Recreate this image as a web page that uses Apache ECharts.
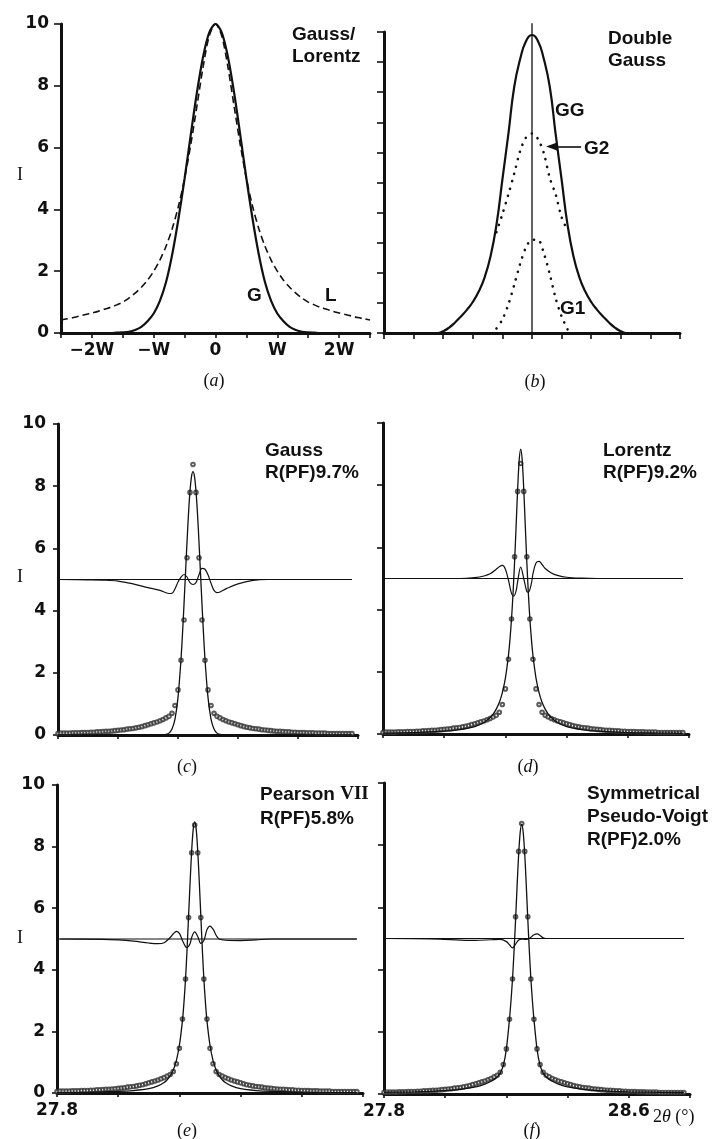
<!DOCTYPE html>
<html><head><meta charset="utf-8">
<script src="https://cdn.jsdelivr.net/npm/echarts@6/dist/echarts.min.js"></script>
<style>html,body{margin:0;padding:0;background:#fff}#c{width:725px;height:1139px}</style>
</head><body><div id="c"></div>
<script>
// ---------- panel (a)/(b): x in units of W ----------
const profX = [-2.5,-2.4,-2.3,-2.2,-2.1,-2.0,-1.9,-1.8,-1.7,-1.6,-1.5,-1.4,-1.3,-1.2,-1.1,-1.0,-0.9,-0.8,-0.7,-0.6,-0.5,-0.4,-0.3,-0.2,-0.1,0,0.1,0.2,0.3,0.4,0.5,0.6,0.7,0.8,0.9,1.0,1.1,1.2,1.3,1.4,1.5,1.6,1.7,1.8,1.9,2.0,2.1,2.2,2.3,2.4,2.5];
const gaussA = [0,0,0,0,0,0,0,0,0,0.01,0.02,0.04,0.1,0.2,0.38,0.63,1.04,1.65,2.55,3.69,5.0,6.42,7.79,8.95,9.73,10,9.73,8.95,7.79,6.42,5.0,3.69,2.55,1.65,1.04,0.63,0.38,0.2,0.1,0.04,0.02,0.01,0,0,0,0,0,0,0,0,0];
const lorentzA = [0.42,0.46,0.5,0.55,0.6,0.65,0.7,0.77,0.83,0.91,1.0,1.13,1.29,1.48,1.71,2.0,2.36,2.81,3.38,4.1,5.0,6.1,7.35,8.62,9.62,10,9.62,8.62,7.35,6.1,5.0,4.1,3.38,2.81,2.36,2.0,1.71,1.48,1.29,1.13,1.0,0.91,0.83,0.77,0.7,0.65,0.6,0.55,0.5,0.46,0.42];
const ggB = [0,0,0,0,0,0,0,0,0,0,0.06,0.18,0.35,0.55,0.77,1.03,1.38,1.85,2.55,3.6,5.1,6.6,8.18,9.1,9.7,9.9,9.7,9.1,8.18,6.6,5.1,3.6,2.55,1.85,1.38,1.03,0.77,0.55,0.35,0.18,0.06,0,0,0,0,0,0,0,0,0,0];
const g12X = [-0.6,-0.5,-0.4,-0.3,-0.2,-0.1,0,0.1,0.2,0.3,0.4,0.5,0.6];
const g2B = [3.35,3.95,4.6,5.3,6.05,6.5,6.63,6.45,5.97,5.15,4.6,3.85,3.4];
const g1B = [0.15,0.45,0.95,1.6,2.3,2.85,3.1,3.1,2.65,1.95,1.15,0.55,0.12];
const vLineX = [0, 0];
const vLineY = [0, 10.29];
const arrowFrom = [0.83, 6.2];
const arrowTo = [0.33, 6.2];
const aTickVals = [-2, -1, 0, 1, 2];
const aTickLabels = ['\u22122W', '\u2212W', '0', 'W', '2W'];

// ---------- panels (c)-(f): 2theta in degrees ----------
const obsX = [27.80,27.81,27.82,27.83,27.84,27.85,27.86,27.87,27.88,27.89,27.90,27.91,27.92,27.93,27.94,27.95,27.96,27.97,27.98,27.99,28.00,28.01,28.02,28.03,28.04,28.05,28.06,28.07,28.08,28.09,28.10,28.11,28.12,28.13,28.14,28.15,28.16,28.17,28.18,28.19,28.20,28.21,28.22,28.23,28.24,28.25,28.26,28.27,28.28,28.29,28.30,28.31,28.32,28.33,28.34,28.35,28.36,28.37,28.38,28.39,28.40,28.41,28.42,28.43,28.44,28.45,28.46,28.47,28.48,28.49,28.50,28.51,28.52,28.53,28.54,28.55,28.56,28.57,28.58,28.59,28.60,28.61,28.62,28.63,28.64,28.65,28.66,28.67,28.68,28.69,28.70,28.71,28.72,28.73,28.74,28.75,28.76,28.77,28.78];
const obsY = [0.05,0.06,0.06,0.06,0.06,0.07,0.07,0.07,0.08,0.08,0.08,0.09,0.09,0.10,0.10,0.11,0.12,0.12,0.13,0.14,0.15,0.16,0.17,0.19,0.20,0.21,0.23,0.25,0.27,0.30,0.33,0.36,0.39,0.42,0.46,0.50,0.55,0.60,0.70,0.95,1.45,2.40,3.70,5.70,7.80,8.70,7.80,5.70,3.70,2.40,1.45,0.95,0.70,0.60,0.55,0.50,0.46,0.42,0.39,0.36,0.33,0.30,0.27,0.25,0.23,0.21,0.20,0.19,0.17,0.16,0.15,0.14,0.13,0.12,0.12,0.11,0.10,0.10,0.09,0.09,0.08,0.08,0.08,0.07,0.07,0.07,0.06,0.06,0.06,0.06,0.05,0.05,0.05,0.05,0.05,0.05,0.05,0.05,0.05];
const fitX = [27.80,27.90,28.00,28.05,28.10,28.13,28.15,28.16,28.17,28.18,28.19,28.20,28.21,28.215,28.22,28.225,28.23,28.235,28.24,28.245,28.25,28.255,28.26,28.265,28.27,28.275,28.28,28.285,28.29,28.30,28.31,28.32,28.33,28.34,28.35,28.37,28.40,28.45,28.50,28.60,28.70,28.78];
const gaussFit = [0,0,0,0,0,0,0,0.02,0.06,0.19,0.51,1.21,2.43,3.26,4.20,5.20,6.20,7.11,7.84,8.31,8.47,8.31,7.84,7.11,6.20,5.20,4.20,3.26,2.43,1.21,0.51,0.19,0.06,0.02,0,0,0,0,0,0,0,0];
const lorentzFit = [0.03,0.045,0.09,0.14,0.24,0.37,0.53,0.64,0.8,1.01,1.33,1.8,2.53,3.05,3.7,4.53,5.53,6.69,7.87,8.8,9.16,8.8,7.87,6.69,5.53,4.53,3.7,3.05,2.53,1.8,1.33,1.01,0.8,0.64,0.53,0.37,0.24,0.14,0.09,0.045,0.03,0.02];
const pearsonFit = [0.01,0.02,0.05,0.08,0.14,0.23,0.34,0.43,0.56,0.75,1.05,1.55,2.35,2.95,3.7,4.65,5.75,6.85,7.85,8.55,8.8,8.55,7.85,6.85,5.75,4.65,3.7,2.95,2.35,1.55,1.05,0.75,0.56,0.43,0.34,0.23,0.14,0.08,0.05,0.02,0.01,0.01];
const pvFit = [0.05,0.07,0.11,0.15,0.23,0.32,0.41,0.47,0.55,0.68,0.92,1.45,2.4,3.0,3.7,4.6,5.6,6.7,7.7,8.4,8.68,8.4,7.7,6.7,5.6,4.6,3.7,3.0,2.4,1.45,0.92,0.68,0.55,0.47,0.41,0.32,0.23,0.15,0.11,0.07,0.05,0.04];
const diffCX = [27.80,27.90,27.95,28.00,28.05,28.10,28.14,28.17,28.18,28.19,28.20,28.21,28.22,28.23,28.24,28.25,28.26,28.27,28.28,28.29,28.30,28.31,28.32,28.33,28.34,28.36,28.40,28.45,28.50,28.78];
const diffCY = [5.0,4.99,4.98,4.95,4.86,4.74,4.65,4.55,4.56,4.7,4.92,5.08,5.16,5.08,4.9,4.84,4.9,5.15,5.36,5.33,5.15,4.88,4.65,4.58,4.6,4.7,4.86,4.97,5.0,5.0];
const diffDX = [27.80,28.05,28.10,28.13,28.15,28.17,28.18,28.19,28.20,28.21,28.22,28.227,28.235,28.24,28.25,28.26,28.27,28.275,28.285,28.29,28.30,28.31,28.32,28.33,28.35,28.37,28.40,28.45,28.50,28.78];
const diffDY = [5.0,5.0,5.03,5.08,5.15,5.3,5.38,5.42,5.3,4.95,4.52,4.43,4.6,4.9,5.37,5.0,4.58,4.56,4.85,5.15,5.5,5.55,5.45,5.32,5.18,5.1,5.04,5.01,5.0,5.0];
const diffEX = [27.80,27.95,28.00,28.05,28.10,28.13,28.15,28.17,28.18,28.19,28.20,28.21,28.22,28.225,28.235,28.24,28.25,28.26,28.27,28.28,28.29,28.30,28.31,28.32,28.33,28.35,28.40,28.45,28.50,28.78];
const diffEY = [5.0,4.99,4.97,4.93,4.87,4.85,4.88,5.05,5.17,5.25,5.18,4.95,4.75,4.72,4.85,5.05,5.23,5.08,4.86,4.95,5.3,5.42,5.32,5.12,5.0,4.96,4.95,4.97,5.0,5.0];
const diffFX = [27.80,27.95,28.00,28.05,28.10,28.15,28.18,28.20,28.21,28.22,28.23,28.24,28.25,28.26,28.27,28.28,28.29,28.30,28.31,28.32,28.33,28.78];
const diffFY = [5.0,4.99,4.97,4.95,4.94,4.96,4.97,4.9,4.8,4.7,4.82,4.95,4.98,4.97,4.98,5.04,5.12,5.15,5.1,5.02,5.0,5.0];
const zeroLineX = [27.81, 28.78];
const zeroLineY = [5, 5];
const eTickVals = [27.8];
const fTickVals = [27.8, 28.6];

// ---------- build ----------
const INK = '#111';
const SANS = 'DejaVu Sans';
const NOTE = 'Liberation Sans';
const SERIF = 'Liberation Serif';
const zip = (xs, ys) => xs.map((x, i) => [x, ys[i]]);
const near = (v, arr) => arr.find(a => Math.abs(a - v) < 1e-6);

const grids = [
  {left: 61, top: 24, width: 309, height: 309},
  {left: 384, top: 32, width: 296, height: 301},
  {left: 58, top: 424, width: 300, height: 311},
  {left: 383, top: 423, width: 306, height: 311},
  {left: 57, top: 785, width: 306, height: 308},
  {left: 384, top: 783, width: 306, height: 311}
].map(g => Object.assign({outerBoundsMode: 'none', containLabel: false}, g));

function xAx(i, min, max, interval, fmt, tickLen) {
  return {
    gridIndex: i, type: 'value', min: min, max: max, interval: interval,
    axisLine: {show: true, onZero: false, lineStyle: {color: INK, width: 3}},
    axisTick: {show: true, length: tickLen, lineStyle: {color: INK, width: 1.6}},
    axisLabel: {show: !!fmt, formatter: fmt || '', showMinLabel: true, showMaxLabel: true,
      color: INK, fontFamily: SANS, fontWeight: 'bold', fontSize: 17, margin: 9},
    splitLine: {show: false}
  };
}
function yAx(i, interval, showLab, tickLen) {
  return {
    gridIndex: i, type: 'value', min: 0, max: 10, interval: interval,
    axisLine: {show: true, onZero: false, lineStyle: {color: INK, width: 3}},
    axisTick: {show: true, length: tickLen, lineStyle: {color: INK, width: 1.6}},
    axisLabel: {show: showLab, color: INK, fontFamily: SANS, fontWeight: 'bold', fontSize: 17, margin: 12},
    splitLine: {show: false}
  };
}
const fmtA = v => { const k = aTickVals.findIndex(a => Math.abs(a - v) < 1e-6); return k >= 0 ? aTickLabels[k] : ''; };
const fmtE = v => { const m = near(v, eTickVals); return m !== undefined ? m.toFixed(1) : ''; };
const fmtF = v => { const m = near(v, fTickVals); return m !== undefined ? m.toFixed(1) : ''; };

const xAxes = [
  xAx(0, -2.5, 2.5, 0.5, fmtA, 5),
  xAx(1, -2.5, 2.5, 0.5, null, 6),
  xAx(2, 27.8, 28.8, 0.2, null, 4),
  xAx(3, 27.8, 28.8, 0.2, null, 4),
  xAx(4, 27.8, 28.8, 0.2, fmtE, 4),
  xAx(5, 27.8, 28.8, 0.2, fmtF, 4)
];
const yAxes = [
  yAx(0, 2, true, 7), yAx(1, 1, false, 7),
  yAx(2, 2, true, 5), yAx(3, 2, false, 6),
  yAx(4, 2, true, 5), yAx(5, 2, false, 6)
];

function line(i, data, width, extra) {
  return Object.assign({
    type: 'line', xAxisIndex: i, yAxisIndex: i, data: data, showSymbol: false, symbol: 'none',
    smooth: 0.3, z: 3, silent: true,
    lineStyle: {color: INK, width: width}
  }, extra || {});
}
function obs(i) {
  return {type: 'scatter', xAxisIndex: i, yAxisIndex: i, data: zip(obsX, obsY), symbol: 'emptyCircle',
    symbolSize: 3.6, z: 2, silent: true, itemStyle: {color: '#333', borderColor: '#333', borderWidth: 0.7}};
}

const series = [
  line(0, zip(profX, gaussA), 2.2),
  line(0, zip(profX, lorentzA), 1.6, {lineStyle: {color: INK, width: 1.6, type: [7, 4]}}),
  line(1, zip(profX, ggB), 2.2, {smooth: 0.5}),
  line(1, zip(g12X, g2B), 2.6, {lineStyle: {color: INK, width: 2.6, type: [0.1, 7.5], cap: 'round'},
    markLine: {silent: true, symbol: ['none', 'triangle'], symbolSize: [8, 11], label: {show: false},
      lineStyle: {color: INK, width: 1.6, type: 'solid'},
      data: [[{coord: arrowFrom}, {coord: arrowTo}]]}}),
  line(1, zip(g12X, g1B), 2.6, {lineStyle: {color: INK, width: 2.6, type: [0.1, 7.5], cap: 'round'}}),
  line(1, zip(vLineX, vLineY), 1.3, {smooth: false, clip: false}),
];
const fits = [gaussFit, lorentzFit, pearsonFit, pvFit];
const diffs = [[diffCX, diffCY], [diffDX, diffDY], [diffEX, diffEY], [diffFX, diffFY]];
for (let p = 0; p < 4; p++) {
  const i = p + 2;
  series.push(obs(i));
  series.push(line(i, zip(fitX, fits[p]), 1.3, {smooth: 0.25}));
  series.push(line(i, zip(zeroLineX, zeroLineY), 1.1, {smooth: false}));
  series.push(line(i, zip(diffs[p][0], diffs[p][1]), 1.2, {smooth: 0.35}));
}

// ---------- annotation texts ----------
const txt = (t, x, y, extra) => ({
  type: 'text', x: x, y: y, silent: true,
  style: Object.assign({text: t, fill: INK, fontFamily: NOTE, fontWeight: 'bold', fontSize: 19, align: 'left', verticalAlign: 'top',
    textAlign: 'left', textVerticalAlign: 'top',
    rich: {s: {fontFamily: NOTE, fontWeight: 'bold', fontSize: 19, fill: INK}, r: {fontFamily: SERIF, fontWeight: 'bold', fontSize: 19, fill: INK},
      n: {fontFamily: SERIF, fontSize: 18, fill: INK}, i: {fontFamily: SERIF, fontStyle: 'italic', fontSize: 18, fill: INK}}}, extra || {})
});
const cap = (letter, x, y) => txt('{n|(}{i|' + letter + '}{n|)}', x, y, {align: 'center', textAlign: 'center', verticalAlign: 'middle', textVerticalAlign: 'middle'});
const iLab = (x, y) => txt('{n|I}', x, y, {align: 'center', textAlign: 'center', verticalAlign: 'middle', textVerticalAlign: 'middle'});

const graphics = [
  txt('Gauss/', 292, 25), txt('Lorentz', 292, 47),
  txt('G', 247, 286), txt('L', 325, 286),
  txt('Double', 608, 29), txt('Gauss', 608, 51),
  txt('GG', 555, 101), txt('G2', 584, 139), txt('G1', 560, 299),
  txt('Gauss', 265, 441), txt('R(PF)9.7%', 265, 463),
  txt('Lorentz', 603, 441), txt('R(PF)9.2%', 603, 463),
  txt('{s|Pearson }{r|VII}', 260, 785), txt('R(PF)5.8%', 260, 809),
  txt('Symmetrical', 587, 784), txt('Pseudo-Voigt', 587, 807), txt('R(PF)2.0%', 587, 830),
  cap('a', 214, 381), cap('b', 535, 382), cap('c', 187, 767), cap('d', 528, 767), cap('e', 187, 1131), cap('f', 532, 1131),
  iLab(20, 175), iLab(20, 577), iLab(20, 938),
  txt('{n|2}{i|\u03b8}{n| (\u00b0)}', 653, 1117, {verticalAlign: 'middle', textVerticalAlign: 'middle'})
];

const chart = echarts.init(document.getElementById('c'), null, {renderer: 'canvas', width: 725, height: 1139});
chart.setOption({
  backgroundColor: '#fff',
  animation: false,
  grid: grids,
  xAxis: xAxes,
  yAxis: yAxes,
  series: series,
  graphic: {elements: graphics}
});
</script>
</body></html>
